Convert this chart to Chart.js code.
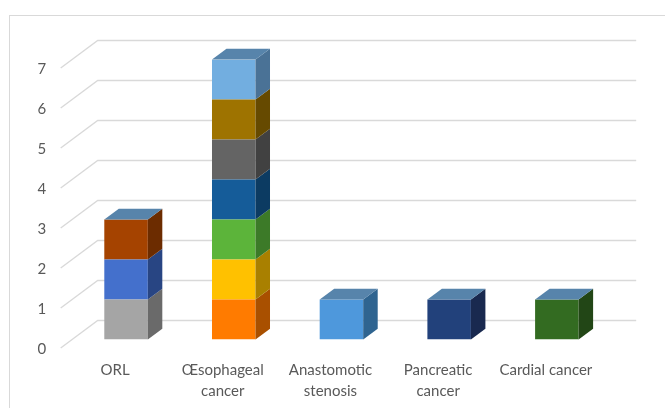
<!DOCTYPE html>
<html>
<head>
<meta charset="utf-8">
<script src="https://cdn.jsdelivr.net/npm/chart.js@4"></script>
<style>
  html, body { margin: 0; padding: 0; background: #ffffff; }
  #wrap { position: relative; width: 665px; height: 408px; }
</style>
</head>
<body>
<div id="wrap"><canvas id="chart"></canvas></div>
<script>
// Categories along the floor (multi-line labels)
const categories = [["ORL"], ["Œsophageal", "cancer"], ["Anastomotic", "stenosis"], ["Pancreatic", "cancer"], ["Cardial cancer"]];

// Stacked layers, bottom to top (null = no segment)
const layer1 = [1, 1, 1, 1, 1];
const layer2 = [1, 1, null, null, null];
const layer3 = [1, 1, null, null, null];
const layer4 = [null, 1, null, null, null];
const layer5 = [null, 1, null, null, null];
const layer6 = [null, 1, null, null, null];
const layer7 = [null, 1, null, null, null];

// Value axis
const yMin = 0;
const yMax = 7;
const yStep = 1;

// Front face colours per layer, per category
const front1 = ["#A5A5A5", "#FF7B00", "#4E98DC", "#22417B", "#336B21"];
const front2 = ["#4470CC", "#FFC100", null, null, null];
const front3 = ["#A54300", "#5CB43A", null, null, null];
const front4 = [null, "#155C99", null, null, null];
const front5 = [null, "#646464", null, null, null];
const front6 = [null, "#9E7300", null, null, null];
const front7 = [null, "#72AEE0", null, null, null];

// Side face colours per layer, per category
const side1 = ["#6A6A6A", "#A95000", "#2F6490", "#19294F", "#224616"];
const side2 = ["#284583", "#A98000", null, null, null];
const side3 = ["#6C2C00", "#3C7A28", null, null, null];
const side4 = [null, "#0C3B62", null, null, null];
const side5 = [null, "#414141", null, null, null];
const side6 = [null, "#664A00", null, null, null];
const side7 = [null, "#4A7296", null, null, null];

const topColor = "#5784AB";

const layers = [layer1, layer2, layer3, layer4, layer5, layer6, layer7];
const fronts = [front1, front2, front3, front4, front5, front6, front7];
const sides = [side1, side2, side3, side4, side5, side6, side7];

// Perspective offsets
const barDepth = { dx: 14.5, dy: -10.8 };
const wallBack = { dx: 25.5, dy: -19 };
const floorFront = { dx: -11.5, dy: 8.5 };
const gridColor = "#D9D9D9";
const textColor = "#595959";

const datasets = layers.map((data, i) => ({
  label: "Layer " + (i + 1),
  data: data,
  backgroundColor: fronts[i].map(c => c || "rgba(0,0,0,0)"),
  borderWidth: 0,
  categoryPercentage: 1,
  barPercentage: 0.404
}));

// Frame, back wall grid and floor diagonals, plus 3D bar faces
const wallPlugin = {
  id: "wall",
  beforeDraw(chart) {
    const ctx = chart.ctx;
    ctx.save();
    ctx.fillStyle = "#ffffff";
    ctx.fillRect(0, 0, chart.width, chart.height);
    ctx.strokeStyle = "#D9D9D9";
    ctx.lineWidth = 1;
    ctx.strokeRect(9.5, 15.5, chart.width + 20, chart.height + 20);
    ctx.restore();
  },
  beforeDatasetsDraw(chart) {
    const ctx = chart.ctx;
    const area = chart.chartArea;
    const ys = chart.scales.y;
    ctx.save();
    ctx.strokeStyle = gridColor;
    ctx.lineWidth = 1.3;
    for (let v = yMin; v <= yMax; v += yStep) {
      const y = ys.getPixelForValue(v);
      ctx.beginPath();
      ctx.moveTo(area.left + floorFront.dx, y + floorFront.dy);
      ctx.lineTo(area.left + wallBack.dx, y + wallBack.dy);
      ctx.lineTo(area.right + wallBack.dx, y + wallBack.dy);
      ctx.stroke();
    }
    ctx.restore();
  },
  afterDatasetsDraw(chart) {
    const ctx = chart.ctx;
    const n = categories.length;
    const topIndex = [];
    for (let j = 0; j < n; j++) {
      let t = -1;
      layers.forEach((d, i) => { if (d[j] != null) t = i; });
      topIndex.push(t);
    }
    ctx.save();
    layers.forEach((d, i) => {
      const meta = chart.getDatasetMeta(i);
      meta.data.forEach((bar, j) => {
        if (d[j] == null) return;
        const p = bar.getProps(["x", "y", "base", "width"], true);
        const left = p.x - p.width / 2;
        const right = p.x + p.width / 2;
        const top = Math.min(p.y, p.base);
        const bottom = Math.max(p.y, p.base);
        // side face
        ctx.fillStyle = sides[i][j];
        ctx.beginPath();
        ctx.moveTo(right, bottom);
        ctx.lineTo(right + barDepth.dx, bottom + barDepth.dy);
        ctx.lineTo(right + barDepth.dx, top + barDepth.dy);
        ctx.lineTo(right, top);
        ctx.closePath();
        ctx.fill();
        // top face on the highest segment
        if (topIndex[j] === i) {
          ctx.fillStyle = topColor;
          ctx.beginPath();
          ctx.moveTo(left, top);
          ctx.lineTo(left + barDepth.dx, top + barDepth.dy);
          ctx.lineTo(right + barDepth.dx, top + barDepth.dy);
          ctx.lineTo(right, top);
          ctx.closePath();
          ctx.fill();
        }
      });
    });
    ctx.restore();
  }
};

new Chart(document.getElementById("chart"), {
  type: "bar",
  data: { labels: categories, datasets: datasets },
  options: {
    responsive: true,
    maintainAspectRatio: false,
    animation: false,
    layout: { padding: { left: 0, right: 54.3, top: 59.5, bottom: 0 } },
    plugins: { legend: { display: false }, tooltip: { enabled: false } },
    scales: {
      x: {
        stacked: true,
        grid: { display: false, drawTicks: false },
        border: { display: false },
        ticks: {
          color: textColor,
          font: { family: "Lato", size: 15, lineHeight: 1.35 },
          padding: 21,
          labelOffset: -11,
          maxRotation: 0,
          autoSkip: false
        },
        afterFit(scale) { scale.height = 68.5; }
      },
      y: {
        stacked: true,
        min: yMin,
        max: yMax,
        grid: { display: false, drawTicks: false },
        border: { display: false },
        ticks: {
          stepSize: yStep,
          color: textColor,
          font: { family: "Lato", size: 15 },
          padding: 26,
          labelOffset: 9.5
        },
        afterFit(scale) { scale.width = 72.2; }
      }
    }
  },
  plugins: [wallPlugin]
});
</script>
</body>
</html>
